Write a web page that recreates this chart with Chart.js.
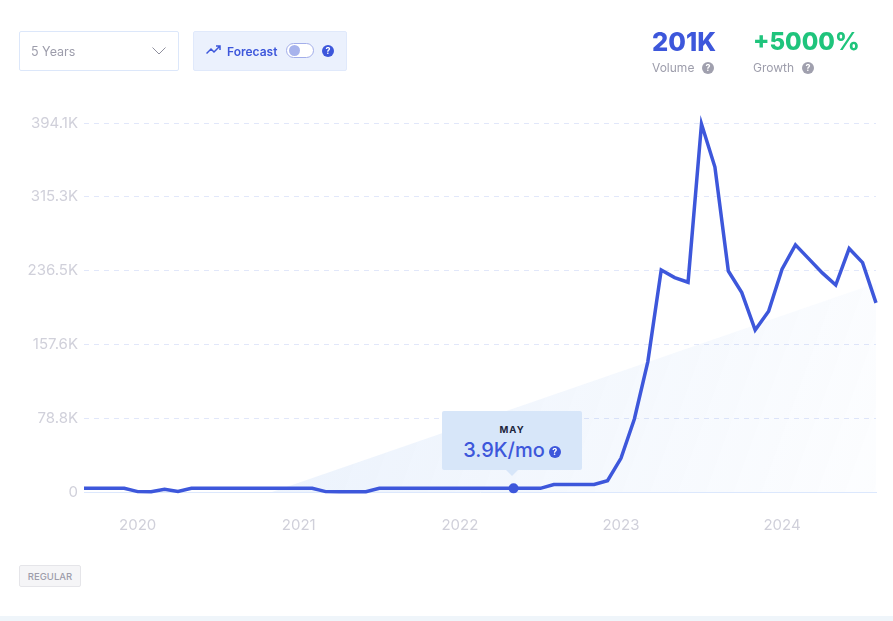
<!DOCTYPE html>
<html>
<head>
<meta charset="utf-8">
<script src="https://cdn.jsdelivr.net/npm/chart.js@4"></script>
<style>
  html, body { margin: 0; padding: 0; background: #fff; }
  body { width: 893px; height: 621px; position: relative; overflow: hidden; font-family: Inter, sans-serif; }
  canvas { position: absolute; left: 0; top: 0; }
  .abs { position: absolute; white-space: nowrap; }
  .select { left: 19px; top: 31px; width: 158px; height: 38px; border: 1px solid #dce7fa; border-radius: 2px; }
  .select span { position: absolute; left: 11px; top: 12px; font-size: 12.5px; line-height: 16px; color: #9d9dab; }
  .select svg { position: absolute; left: 132px; top: 15px; }
  .forecast { left: 193px; top: 31px; width: 152px; height: 38px; background: #ebf1fd; border: 1px solid #e0e9fb; border-radius: 2px; }
  .forecast .name { position: absolute; left: 33px; top: 12px; font-size: 12px; line-height: 16px; font-weight: 600; color: #3d57db; }
  .forecast .icon { position: absolute; left: 12px; top: 13px; }
  .toggle { position: absolute; left: 92px; top: 11px; width: 26px; height: 13px; border: 1px solid #a3aeea; border-radius: 8px; background: #fff; }
  .toggle i { position: absolute; left: 2px; top: 1px; width: 11px; height: 11px; border-radius: 50%; background: #a7b3ec; }
  .q { display: inline-block; border-radius: 50%; color: #fff; text-align: center; font-weight: 700; }
  .forecast .q { position: absolute; left: 128px; top: 13px; width: 12px; height: 12px; font-size: 9px; line-height: 12px; background: #3d57db; }
  .big { font-size: 25.5px; line-height: 30px; font-weight: 800; }
  .small { font-size: 12px; line-height: 16px; color: #9d9dab; }
  .small .q { position: absolute; top: 2px; width: 12px; height: 12px; font-size: 9px; line-height: 12px; background: #a0a0ae; }
  .tag { left: 19px; top: 565px; width: 60px; height: 20px; line-height: 21px; text-align: center; font-size: 9.5px; font-weight: 500; color: #9d9dab; background: #f5f5f7; border: 1px solid #e5e5e9; border-radius: 2px; }
  .band { left: 0; top: 616px; width: 893px; height: 5px; background: #eff5fa; }
  #tip { width: 140px; height: 59px; background: #d7e6f9; border-radius: 2px; text-align: center; }
  #tip:after { content: ""; position: absolute; left: 64px; top: 59px; border: 6px solid transparent; border-top-color: #d7e6f9; }
  #tip .mon { margin-top: 13px; font-size: 9.5px; line-height: 12px; font-weight: 700; letter-spacing: 1px; color: #20243c; }
  #tip .val { margin-top: 2px; font-size: 20px; line-height: 24px; font-weight: 500; color: #3d57db; }
  #tip .q { position: relative; top: -2px; margin-left: 4px; width: 12px; height: 12px; font-size: 9px; line-height: 12px; background: #3d57db; }
</style>
</head>
<body>
<canvas id="volumeChart" width="893" height="621"></canvas>

<div class="abs select"><span>5 Years</span>
  <svg width="14" height="8" viewBox="0 0 14 8"><path d="M0.5 0.5 L7 7 L13.5 0.5" fill="none" stroke="#8f8f9d" stroke-width="1"/></svg>
</div>
<div class="abs forecast">
  <svg class="icon" width="15" height="10" viewBox="0 0 15 10"><path d="M0.5 8.5 L5 4 L8 7 L14 1 M10 1 L14 1 L14 5" fill="none" stroke="#3d57db" stroke-width="1.5"/></svg>
  <span class="name">Forecast</span>
  <div class="toggle"><i></i></div>
  <span class="q">?</span>
</div>

<div class="abs big" style="left:652px;top:27px;color:#3d57db">201K</div>
<div class="abs small" style="left:652px;top:60px">Volume<span class="q" style="left:50px">?</span></div>
<div class="abs big" style="left:753px;top:27px;color:#1fc47c;font-size:24px">+5000%</div>
<div class="abs small" style="left:753px;top:60px">Growth<span class="q" style="left:49px">?</span></div>

<div class="abs" id="tip">
  <div class="mon">MAY</div>
  <div class="val">3.9K/mo<span class="q">?</span></div>
</div>

<div class="abs tag">REGULAR</div>
<div class="abs band"></div>

<script>
/* values, in thousands per month */
const MONTHS = [
  "Sep 2019", "Oct 2019", "Nov 2019", "Dec 2019",
  "Jan 2020", "Feb 2020", "Mar 2020", "Apr 2020", "May 2020", "Jun 2020", "Jul 2020", "Aug 2020", "Sep 2020", "Oct 2020", "Nov 2020", "Dec 2020",
  "Jan 2021", "Feb 2021", "Mar 2021", "Apr 2021", "May 2021", "Jun 2021", "Jul 2021", "Aug 2021", "Sep 2021", "Oct 2021", "Nov 2021", "Dec 2021",
  "Jan 2022", "Feb 2022", "Mar 2022", "Apr 2022", "May 2022", "Jun 2022", "Jul 2022", "Aug 2022", "Sep 2022", "Oct 2022", "Nov 2022", "Dec 2022",
  "Jan 2023", "Feb 2023", "Mar 2023", "Apr 2023", "May 2023", "Jun 2023", "Jul 2023", "Aug 2023", "Sep 2023", "Oct 2023", "Nov 2023", "Dec 2023",
  "Jan 2024", "Feb 2024", "Mar 2024", "Apr 2024", "May 2024", "Jun 2024", "Jul 2024", "Aug 2024"
];
const VOLUME = [
  3.9, 3.9, 3.9, 3.9,
  0.4, 0.3, 3, 0.5, 3.9, 3.9, 3.9, 3.9, 3.9, 3.9, 3.9, 3.9,
  3.9, 3.9, 0.4, 0.3, 0.3, 0.3, 3.9, 3.9, 3.9, 3.9, 3.9, 3.9,
  3.9, 3.9, 3.9, 3.9, 3.9, 3.9, 3.9, 8, 8, 8, 8, 12,
  36, 78, 139, 237, 229, 224, 393, 347, 236, 213, 173, 193,
  238, 264, 249, 234, 221, 260, 245, 202
];
// trend area behind the line, only its two ends can be read
const TREND = MONTHS.map(() => null);
const TREND_START_INDEX = 14, TREND_START = 0;
const TREND_END_INDEX = 59, TREND_END = 223;
TREND[TREND_START_INDEX] = TREND_START;
TREND[TREND_END_INDEX] = TREND_END;

const Y_TICKS = [0, 78.8, 157.6, 236.5, 315.3, 394.1];
const Y_LABELS = ["0", "78.8K", "157.6K", "236.5K", "315.3K", "394.1K"];
const HIGHLIGHT = "May 2022";

const BLUE = "#3d57db";
const TICK_COLOR = "#d0d0da";
const highlightIndex = MONTHS.indexOf(HIGHLIGHT);

// the area fades towards the bottom right corner
function trendFill(ctx) {
  const area = ctx.chart.chartArea;
  if (!area) return "#eef4fc";
  const g = ctx.chart.ctx.createLinearGradient(area.left + 300, area.top + 220, area.right, area.bottom + 30);
  g.addColorStop(0, "rgba(60,130,230,0.09)");
  g.addColorStop(1, "rgba(60,130,230,0.01)");
  return g;
}

// puts the html callout above the highlighted point
const calloutPlugin = {
  id: "callout",
  afterRender(chart) {
    const x = chart.scales.x.getPixelForValue(highlightIndex);
    const y = chart.scales.y.getPixelForValue(VOLUME[highlightIndex]);
    const tip = document.getElementById("tip");
    tip.style.left = (x - 71.5) + "px";
    tip.style.top = (y - 77.5) + "px";
  }
};

new Chart(document.getElementById("volumeChart").getContext("2d"), {
  type: "line",
  data: {
    labels: MONTHS,
    datasets: [
      {
        label: "Volume",
        data: VOLUME,
        borderColor: BLUE,
        borderWidth: 3.5,
        tension: 0,
        fill: false,
        clip: false,
        pointBackgroundColor: BLUE,
        pointBorderWidth: 0,
        pointRadius: c => (c.dataIndex === highlightIndex ? 5 : 0),
        order: 1
      },
      {
        label: "Trend",
        data: TREND,
        spanGaps: true,
        borderWidth: 0,
        borderColor: "transparent",
        backgroundColor: trendFill,
        fill: "origin",
        pointRadius: 0,
        order: 2
      }
    ]
  },
  options: {
    responsive: false,
    animation: false,
    layout: { padding: { top: 123, right: 17, left: 0, bottom: 0 } },
    plugins: { legend: { display: false }, tooltip: { enabled: false } },
    scales: {
      x: {
        offset: false,
        grid: { display: false },
        border: { color: "#dce8fd", width: 1 },
        afterFit(scale) {
          scale.height = 129;
          scale.paddingRight = 0;
          scale.paddingLeft = 0;
        },
        ticks: {
          autoSkip: false,
          maxRotation: 0,
          padding: 16,
          color: TICK_COLOR,
          font: { family: "Inter", size: 15 },
          callback(value) {
            const label = MONTHS[value];
            return label.startsWith("Jan") ? label.slice(4) : "";
          }
        }
      },
      y: {
        min: 0,
        max: Y_TICKS[Y_TICKS.length - 1],
        afterFit(scale) { scale.width = 84; },
        afterBuildTicks(scale) { scale.ticks = Y_TICKS.map(v => ({ value: v })); },
        grid: {
          color: c => (c.tick.value === 0 ? "transparent" : "#e1e7fa"),
          drawTicks: false,
          lineWidth: 1
        },
        border: { display: false, dash: [5, 5] },
        ticks: {
          padding: 6,
          color: TICK_COLOR,
          font: { family: "Inter", size: 15 },
          callback(value) { return Y_LABELS[Y_TICKS.indexOf(value)]; }
        }
      }
    }
  },
  plugins: [calloutPlugin]
});
</script>
</body>
</html>
